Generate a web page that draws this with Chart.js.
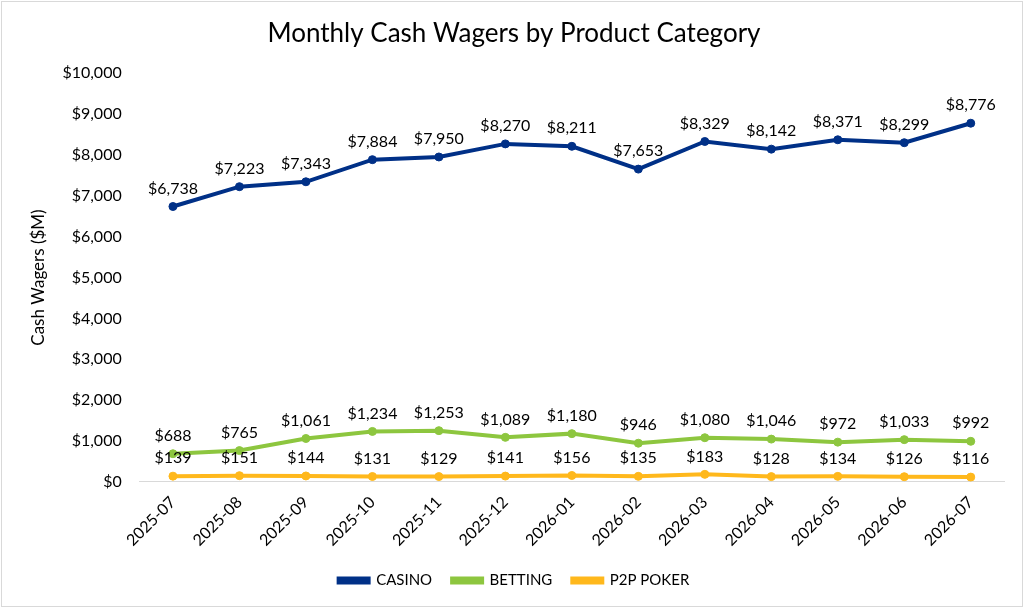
<!DOCTYPE html>
<html>
<head>
<meta charset="utf-8">
<script src="https://cdn.jsdelivr.net/npm/chart.js@4"></script>
<style>
  html, body { margin: 0; padding: 0; background: #fff; }
  #wrap { position: absolute; left: 1px; top: 1px; width: 1020px; height: 604px; border: 1px solid #d9d9d9; }
</style>
</head>
<body>
<div id="wrap"><canvas id="chart" width="1020" height="604"></canvas></div>
<script>
const months = ['2025-07','2025-08','2025-09','2025-10','2025-11','2025-12','2026-01','2026-02','2026-03','2026-04','2026-05','2026-06','2026-07'];
const casino = [6738, 7223, 7343, 7884, 7950, 8270, 8211, 7653, 8329, 8142, 8371, 8299, 8776];
const betting = [688, 765, 1061, 1234, 1253, 1089, 1180, 946, 1080, 1046, 972, 1033, 992];
const poker = [139, 151, 144, 131, 129, 141, 156, 135, 183, 128, 134, 126, 116];

const fmt = v => '$' + v.toLocaleString('en-US');

// draw value labels above each point
const valueLabels = {
  id: 'valueLabels',
  afterDatasetsDraw(chart) {
    const ctx = chart.ctx;
    ctx.save();
    ctx.font = '16px Lato';
    ctx.fillStyle = '#000';
    ctx.textAlign = 'center';
    ctx.textBaseline = 'bottom';
    chart.data.datasets.forEach((ds, i) => {
      chart.getDatasetMeta(i).data.forEach((pt, j) => {
        ctx.fillText(fmt(ds.data[j]), pt.x, pt.y - 10);
      });
    });
    ctx.restore();
  }
};

new Chart(document.getElementById('chart'), {
  type: 'line',
  data: {
    labels: months,
    datasets: [
      { label: 'CASINO', data: casino, borderColor: '#003087', backgroundColor: '#003087' },
      { label: 'BETTING', data: betting, borderColor: '#8dc63f', backgroundColor: '#8dc63f' },
      { label: 'P2P POKER', data: poker, borderColor: '#ffb81c', backgroundColor: '#ffb81c' }
    ]
  },
  options: {
    responsive: false,
    animation: false,
    layout: { padding: { left: 22, right: 18, top: 8, bottom: 8 } },
    elements: {
      line: { borderWidth: 4, tension: 0 },
      point: { radius: 4, hoverRadius: 4 }
    },
    scales: {
      x: {
        offset: true,
        grid: { display: false },
        border: { color: '#d9d9d9' },
        ticks: { color: '#000', font: { family: 'Lato', size: 16 }, maxRotation: 45, minRotation: 45 }
      },
      y: {
        min: 0, max: 10000,
        ticks: { stepSize: 1000, color: '#000', font: { family: 'Lato', size: 16 }, padding: 10, callback: v => fmt(v) },
        grid: { display: false },
        border: { display: false },
        title: { display: true, text: 'Cash Wagers ($M)', color: '#000', font: { family: 'Lato', size: 17 } }
      }
    },
    plugins: {
      title: { display: true, text: 'Monthly Cash Wagers by Product Category', color: '#000', font: { family: 'Lato', size: 26, weight: 'normal' }, padding: { top: 8, bottom: 24 } },
      legend: {
        position: 'bottom',
        labels: { color: '#000', font: { family: 'Lato', size: 15 }, boxWidth: 30, boxHeight: 4, padding: 20 }
      },
      tooltip: { enabled: false }
    }
  },
  plugins: [valueLabels]
});
</script>
</body>
</html>
